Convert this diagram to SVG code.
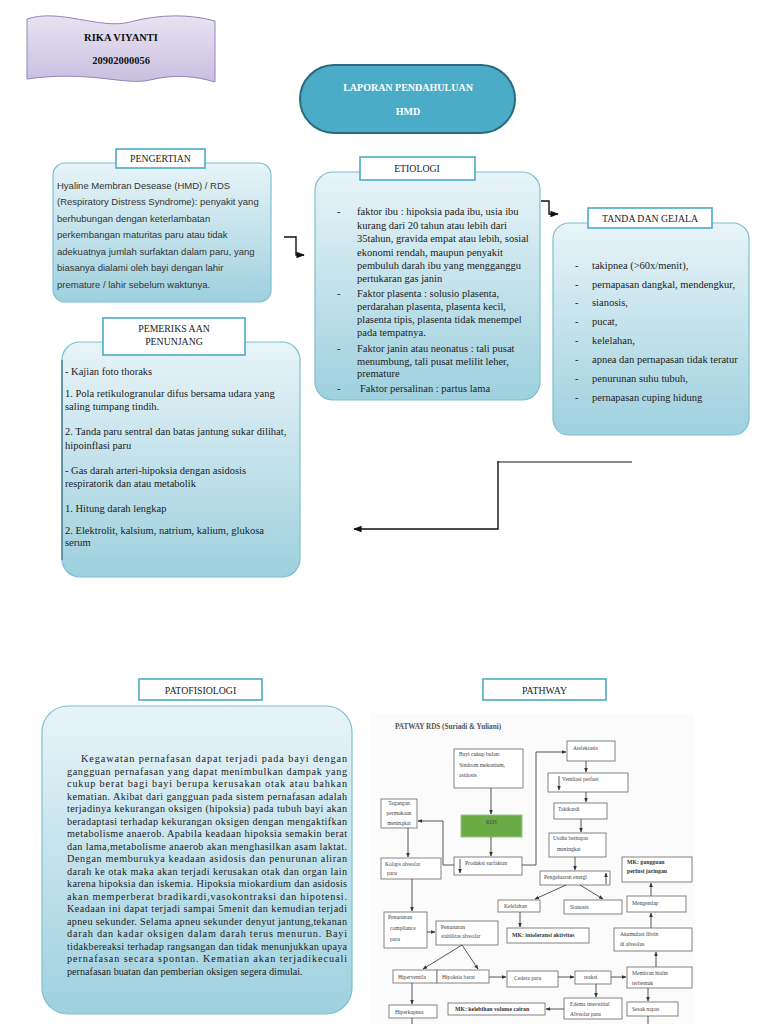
<svg xmlns="http://www.w3.org/2000/svg" width="768" height="1024" viewBox="0 0 768 1024">
<defs>
<linearGradient id="gBlue" x1="0" y1="0" x2="0" y2="1">
<stop offset="0" stop-color="#e8f4f8"/>
<stop offset="1" stop-color="#9ed0de"/>
</linearGradient>
<linearGradient id="gPurple" x1="0" y1="0" x2="0" y2="1">
<stop offset="0" stop-color="#e8e3f2"/>
<stop offset="1" stop-color="#c9bfe0"/>
</linearGradient>
<marker id="ah" viewBox="0 0 10 10" refX="9" refY="5" markerWidth="6" markerHeight="6" orient="auto-start-reverse">
<path d="M0,1 L10,5 L0,9 Z" fill="#111"/>
</marker>
<marker id="ap" viewBox="0 0 10 10" refX="9" refY="5" markerWidth="5" markerHeight="5" orient="auto-start-reverse">
<path d="M0,1 L10,5 L0,9 Z" fill="#333"/>
</marker>
<style>
.box{fill:url(#gBlue);stroke:#7cc0d2;stroke-width:1.2}
.lbl{fill:#fff;stroke:#4bacc6;stroke-width:1.6}
.lt{font-family:"Liberation Serif",serif;font-size:9.8px;fill:#222;text-anchor:middle}
.sans{font-family:"Liberation Sans",sans-serif;font-size:9.5px;fill:#333}
.ser{font-family:"Liberation Serif",serif;font-size:10.5px;fill:#222}
.pat{font-family:"Liberation Serif",serif;font-size:10.2px;fill:#222}
.conn{fill:none;stroke:#111;stroke-width:1.4}
.pb{fill:#fff;stroke:#777;stroke-width:0.9}
.pt{font-family:"Liberation Serif",serif;font-size:5.6px;fill:#444}
.ptb{font-family:"Liberation Serif",serif;font-size:5.8px;fill:#333;font-weight:bold}
.pc{fill:none;stroke:#444;stroke-width:0.9}
</style>
</defs>
<rect width="768" height="1024" fill="#fff"/>

<g id="name">
<path d="M27,19 C60,8 100,30 130,22 C160,14 190,14 215,21 L215,82 C195,76 175,74 150,80 C125,86 90,70 27,79 Z" fill="url(#gPurple)" stroke="#9385ba" stroke-width="1"/>
<text x="121" y="41" text-anchor="middle" font-family="Liberation Serif,serif" font-size="10.5" font-weight="bold" fill="#111">RIKA VIYANTI</text>
<text x="121" y="64" text-anchor="middle" font-family="Liberation Serif,serif" font-size="10.5" font-weight="bold" fill="#111">20902000056</text>
</g>

<g id="title">
<rect x="300" y="65" width="215" height="68" rx="34" fill="#4aacc6" stroke="#2b6a7a" stroke-width="2"/>
<text x="408" y="91" text-anchor="middle" font-family="Liberation Serif,serif" font-size="10" font-weight="bold" fill="#fff">LAPORAN PENDAHULUAN</text>
<text x="408" y="115" text-anchor="middle" font-family="Liberation Serif,serif" font-size="10" font-weight="bold" fill="#fff">HMD</text>
</g>

<g id="pengertian">
<rect class="box" x="53" y="163" width="218" height="139" rx="12"/>
<rect class="lbl" x="116" y="149" width="89" height="19"/>
<text class="lt" x="160.5" y="162">PENGERTIAN</text>
<text class="sans" x="57" y="189">Hyaline Membran Desease (HMD) / RDS</text>
<text class="sans" x="57" y="205">(Respiratory Distress Syndrome): penyakit yang</text>
<text class="sans" x="57" y="222">berhubungan dengan keterlambatan</text>
<text class="sans" x="57" y="238">perkembangan maturitas paru atau tidak</text>
<text class="sans" x="57" y="255">adekuatnya jumlah surfaktan dalam paru, yang</text>
<text class="sans" x="57" y="271">biasanya dialami oleh bayi dengan lahir</text>
<text class="sans" x="57" y="288">premature / lahir sebelum waktunya.</text>
</g>

<g id="etiologi">
<rect class="box" x="315" y="172" width="225" height="228" rx="18"/>
<rect class="lbl" x="360" y="157" width="115" height="23"/>
<text class="lt" x="417" y="172">ETIOLOGI</text>
<text class="ser" x="337" y="215">-</text>
<text class="ser" x="357" y="215">faktor ibu : hipoksia pada ibu, usia ibu</text>
<text class="ser" x="357" y="229">kurang dari 20 tahun atau lebih dari</text>
<text class="ser" x="357" y="242">35tahun, gravida empat atau lebih, sosial</text>
<text class="ser" x="357" y="256">ekonomi rendah, maupun penyakit</text>
<text class="ser" x="357" y="269">pembuluh darah ibu yang mengganggu</text>
<text class="ser" x="357" y="282">pertukaran gas janin</text>
<text class="ser" x="337" y="297">-</text>
<text class="ser" x="357" y="297">Faktor plasenta : solusio plasenta,</text>
<text class="ser" x="357" y="310">perdarahan plasenta, plasenta kecil,</text>
<text class="ser" x="357" y="323">plasenta tipis, plasenta tidak menempel</text>
<text class="ser" x="357" y="336">pada tempatnya.</text>
<text class="ser" x="337" y="352">-</text>
<text class="ser" x="357" y="352">Faktor janin atau neonatus  : tali pusat</text>
<text class="ser" x="357" y="365">menumbung, tali pusat melilit leher,</text>
<text class="ser" x="357" y="377">premature</text>
<text class="ser" x="337" y="392">-</text>
<text class="ser" x="360" y="392">Faktor persalinan  : partus lama</text>
</g>

<g id="tanda">
<rect class="box" x="553" y="223" width="196" height="212" rx="16"/>
<rect class="lbl" x="588" y="208" width="124" height="20"/>
<text class="lt" x="650" y="222">TANDA DAN GEJALA</text>
<g class="ser">
<text x="575" y="269">-</text><text x="592" y="269">takipnea (&gt;60x/menit),</text>
<text x="575" y="288">-</text><text x="592" y="288">pernapasan dangkal, mendengkur,</text>
<text x="575" y="306">-</text><text x="592" y="306">sianosis,</text>
<text x="575" y="325">-</text><text x="592" y="325">pucat,</text>
<text x="575" y="344">-</text><text x="592" y="344">kelelahan,</text>
<text x="575" y="363">-</text><text x="592" y="363">apnea dan pernapasan tidak teratur</text>
<text x="575" y="382">-</text><text x="592" y="382">penurunan suhu tubuh,</text>
<text x="575" y="401">-</text><text x="592" y="401">pernapasan cuping hidung</text>
</g>
</g>

<g id="pemeriksaan">
<rect class="box" x="62" y="342" width="238" height="235" rx="18"/>
<path d="M62,360 L62,560" stroke="#2f6f80" stroke-width="1.2" fill="none"/>
<rect class="lbl" x="103" y="318" width="142" height="37"/>
<text class="lt" x="174" y="332">PEMERIKS AAN</text>
<text class="lt" x="174" y="345">PENUNJANG</text>
<g class="ser">
<text x="65" y="375">- Kajian foto thoraks</text>
<text x="65" y="397">1. Pola retikulogranular difus bersama udara yang</text>
<text x="65" y="410">saling tumpang tindih.</text>
<text x="65" y="435">2. Tanda paru sentral dan batas jantung sukar dilihat,</text>
<text x="65" y="449">hipoinflasi paru</text>
<text x="65" y="474">- Gas darah arteri-hipoksia dengan asidosis</text>
<text x="65" y="487">respiratorik dan atau metabolik</text>
<text x="65" y="512">1. Hitung darah lengkap</text>
<text x="65" y="534">2. Elektrolit, kalsium, natrium, kalium, glukosa</text>
<text x="65" y="546">serum</text>
</g>
</g>

<g id="patofisiologi">
<rect class="box" x="42" y="706" width="310" height="308" rx="26"/>
<rect class="lbl" x="139" y="679" width="123" height="21"/>
<text class="lt" x="200.5" y="694">PATOFISIOLOGI</text>
<g class="pat">
<text x="81" y="762" textLength="266" lengthAdjust="spacing">Kegawatan pernafasan dapat terjadi pada bayi dengan</text>
<text x="67" y="774.5" textLength="280" lengthAdjust="spacing">gangguan pernafasan yang dapat menimbulkan dampak yang</text>
<text x="67" y="787" textLength="280" lengthAdjust="spacing">cukup berat bagi bayi berupa kerusakan otak atau bahkan</text>
<text x="67" y="799.5" textLength="280" lengthAdjust="spacing">kematian. Akibat dari gangguan pada sistem pernafasan adalah</text>
<text x="67" y="812" textLength="280" lengthAdjust="spacing">terjadinya kekurangan oksigen (hipoksia) pada tubuh bayi akan</text>
<text x="67" y="824.5" textLength="280" lengthAdjust="spacing">beradaptasi terhadap kekurangan oksigen dengan mengaktifkan</text>
<text x="67" y="837" textLength="280" lengthAdjust="spacing">metabolisme anaerob. Apabila keadaan hipoksia semakin berat</text>
<text x="67" y="849.5" textLength="280" lengthAdjust="spacing">dan lama,metabolisme anaerob akan menghasilkan asam laktat.</text>
<text x="67" y="862" textLength="280" lengthAdjust="spacing">Dengan memburukya keadaan asidosis dan penurunan aliran</text>
<text x="67" y="874.5" textLength="280" lengthAdjust="spacing">darah ke otak maka akan terjadi kerusakan otak dan organ lain</text>
<text x="67" y="887" textLength="280" lengthAdjust="spacing">karena hipoksia dan iskemia.  Hipoksia miokardium dan asidosis</text>
<text x="67" y="899.5" textLength="280" lengthAdjust="spacing">akan memperberat bradikardi,vasokontraksi dan hipotensi.</text>
<text x="67" y="912" textLength="280" lengthAdjust="spacing">Keadaan ini dapat terjadi sampai 5menit dan kemudian terjadi</text>
<text x="67" y="924.5" textLength="280" lengthAdjust="spacing">apneu sekunder. Selama apneu sekunder denyut jantung,tekanan</text>
<text x="67" y="937" textLength="280" lengthAdjust="spacing">darah dan kadar oksigen dalam darah terus menurun. Bayi</text>
<text x="67" y="949.5" textLength="280" lengthAdjust="spacing">tidakbereaksi terhadap rangsangan dan tidak menunjukkan upaya</text>
<text x="67" y="962" textLength="280" lengthAdjust="spacing">pernafasan secara spontan. Kematian akan terjadikecuali</text>
<text x="67" y="974.5">pernafasan buatan dan pemberian oksigen segera dimulai.</text>
</g>
</g>

<g id="pathway-label">
<rect class="lbl" x="483" y="679" width="123" height="21"/>
<text class="lt" x="544.5" y="694">PATHWAY</text>
</g>

<g id="connectors">
<path class="conn" d="M284,237 L296,237 L296,255 L304,255" marker-end="url(#ah)"/>
<path class="conn" d="M541,201 L549,201 L549,214 L558,214" marker-end="url(#ah)"/>
<path d="M632,462 L498,462" fill="none" stroke="#666" stroke-width="1.4"/>
<path class="conn" d="M498,461 L498,529 L354,529" marker-end="url(#ah)"/>
</g>

<g id="pathway">
<rect x="370" y="713" width="325" height="311" fill="#fbfbfb"/>
<text x="395" y="729" font-family="Liberation Serif,serif" font-size="7.2" font-weight="bold" fill="#555">PATWAY RDS (Suriadi &amp; Yuliani)</text>

<g id="p-bayi"><rect class="pb" x="454" y="749" width="69" height="39"/>
<text class="pt" x="459" y="756">Bayi cukup bulan:</text><text class="pt" x="459" y="767">Sindrom mekonium,</text><text class="pt" x="459" y="777">asidosis</text></g>
<g id="p-rds"><rect x="461" y="815" width="61" height="22" fill="#6aab45" stroke="#9ac48a" stroke-width="1"/>
<text class="pt" x="491.5" y="824" text-anchor="middle" fill="#eef5e8">RDS</text></g>
<g id="p-tegangan"><rect class="pb" x="381" y="799" width="36" height="29"/>
<text class="pt" x="399" y="805" text-anchor="middle">Tegangan</text><text class="pt" x="399" y="815" text-anchor="middle">permukaan</text><text class="pt" x="399" y="825" text-anchor="middle">meningkat</text></g>
<g id="p-kolaps"><rect class="pb" x="381" y="858" width="60" height="21"/>
<text class="pt" x="385" y="866">Kolaps alveolar</text><text class="pt" x="387" y="875">paru</text></g>
<g id="p-produksi"><rect class="pb" x="454" y="857" width="68" height="18"/>
<text class="pt" x="465" y="865">Produksi surfaktan</text></g>
<g id="p-atelektasis"><rect class="pb" x="567" y="741" width="48" height="20"/>
<text class="pt" x="573" y="750">Atelektasis</text></g>
<g id="p-ventilasi"><rect class="pb" x="548" y="773" width="80" height="19"/>
<text class="pt" x="562" y="781">Ventilasi perfusi</text></g>
<g id="p-takikardi"><rect class="pb" x="554" y="803" width="53" height="16"/>
<text class="pt" x="558" y="811">Takikardi</text></g>
<g id="p-usaha"><rect class="pb" x="549" y="833" width="57" height="24"/>
<text class="pt" x="553" y="840">Usaha bernapas</text><text class="pt" x="557" y="851">meningkat</text></g>
<g id="p-mk-perfusi"><rect class="pb" x="622" y="857" width="70" height="25"/>
<text class="ptb" x="627" y="864">MK: gangguan</text><text class="ptb" x="627" y="873">perfusi jaringan</text></g>
<g id="p-pengeluaran"><rect class="pb" x="540" y="871" width="70" height="14"/>
<text class="pt" x="544" y="879">Pengeluaran energi</text></g>
<g id="p-kelelahan"><rect class="pb" x="498" y="900" width="42" height="12"/>
<text class="pt" x="504" y="908">Kelelahan</text></g>
<g id="p-sianosis"><rect class="pb" x="564" y="900" width="58" height="14"/>
<text class="pt" x="570" y="909">Sianosis</text></g>
<g id="p-mengendap"><rect class="pb" x="627" y="896" width="59" height="16"/>
<text class="pt" x="632" y="905">Mengendap</text></g>
<g id="p-mk-intoleransi"><rect class="pb" x="507" y="928" width="82" height="15"/>
<text class="ptb" x="512" y="937">MK: intoleransi aktivitas</text></g>
<g id="p-akumulasi"><rect class="pb" x="614" y="928" width="78" height="23"/>
<text class="pt" x="620" y="936">Akumulasi fibrin</text><text class="pt" x="620" y="946">di alveolus</text></g>
<g id="p-compliance"><rect class="pb" x="384" y="912" width="43" height="36"/>
<text class="pt" x="388" y="919">Penurunan</text><text class="pt" x="390" y="930">compliance</text><text class="pt" x="390" y="941">paru</text></g>
<g id="p-stabilitas"><rect class="pb" x="436" y="921" width="62" height="24"/>
<text class="pt" x="441" y="929">Penurunan</text><text class="pt" x="441" y="938">stabilitas alveolar</text></g>
<g id="p-hiperventila"><rect class="pb" x="393" y="970" width="44" height="13"/>
<text class="pt" x="398" y="978.5">Hiperventila</text></g>
<g id="p-hipoksia"><rect class="pb" x="437" y="970" width="52" height="13"/>
<text class="pt" x="442" y="978.5">Hipoksia berat</text></g>
<g id="p-cedera"><rect class="pb" x="507" y="971" width="51" height="16"/>
<text class="pt" x="514" y="980">Cedera paru</text></g>
<g id="p-reaksi"><rect class="pb" x="575" y="971" width="36" height="13"/>
<text class="pt" x="584" y="979">reaksi</text></g>
<g id="p-membran"><rect class="pb" x="627" y="967" width="65" height="21"/>
<text class="pt" x="632" y="975">Membran hialin</text><text class="pt" x="632" y="985">terbentuk</text></g>
<g id="p-edema"><rect class="pb" x="564" y="998" width="58" height="21"/>
<text class="pt" x="570" y="1006">Edema interstitial</text><text class="pt" x="570" y="1016">Alveolar paru</text></g>
<g id="p-mk-cairan"><rect class="pb" x="448" y="1003" width="97" height="12"/>
<text class="ptb" x="455" y="1011">MK: kelebihan volume cairan</text></g>
<g id="p-sesak"><rect class="pb" x="627" y="1002" width="51" height="14"/>
<text class="pt" x="632" y="1011">Sesak napas</text></g>
<g id="p-hiperkapnea"><rect class="pb" x="389" y="1005" width="48" height="13"/>
<text class="pt" x="395" y="1013.5">Hiperkapnea</text></g>

<g id="p-connectors">
<path class="pc" d="M491,788 L491,814" marker-end="url(#ap)"/>
<path class="pc" d="M491,837 L491,856" marker-end="url(#ap)"/>
<path class="pc" d="M454,865 L443,865 L443,821 L418,821" marker-end="url(#ap)"/>
<path class="pc" d="M408,828 L408,857" marker-end="url(#ap)"/>
<path class="pc" d="M460,859 L460,873" marker-end="url(#ap)"/>
<path class="pc" d="M522,865 L536,865 L536,752 L566,752" marker-end="url(#ap)"/>
<path class="pc" d="M586,761 L586,772" marker-end="url(#ap)"/>
<path class="pc" d="M559,776 L559,790" marker-end="url(#ap)"/>
<path class="pc" d="M586,792 L586,802" marker-end="url(#ap)"/>
<path class="pc" d="M581,819 L581,832" marker-end="url(#ap)"/>
<path class="pc" d="M575,857 L575,870" marker-end="url(#ap)"/>
<path class="pc" d="M606,884 L606,873" marker-end="url(#ap)"/>
<path class="pc" d="M566,885 L535,899" marker-end="url(#ap)"/>
<path class="pc" d="M580,885 L603,899" marker-end="url(#ap)"/>
<path class="pc" d="M520,912 L520,927" marker-end="url(#ap)"/>
<path class="pc" d="M651,896 L651,883" marker-end="url(#ap)"/>
<path class="pc" d="M651,928 L651,913" marker-end="url(#ap)"/>
<path class="pc" d="M656,967 L656,952" marker-end="url(#ap)"/>
<path class="pc" d="M648,988 L648,1001" marker-end="url(#ap)"/>
<path class="pc" d="M648,1016 L648,1024"/>
<path class="pc" d="M611,977 L626,977" marker-end="url(#ap)"/>
<path class="pc" d="M558,977 L574,977" marker-end="url(#ap)"/>
<path class="pc" d="M596,984 L596,997" marker-end="url(#ap)"/>
<path class="pc" d="M564,1009 L546,1009" marker-end="url(#ap)"/>
<path class="pc" d="M412,879 L412,911" marker-end="url(#ap)"/>
<path class="pc" d="M427,932 L435,932" marker-end="url(#ap)"/>
<path class="pc" d="M462,945 L423,969" marker-end="url(#ap)"/>
<path class="pc" d="M462,945 L478,969" marker-end="url(#ap)"/>
<path class="pc" d="M489,977 L506,977" marker-end="url(#ap)"/>
<path class="pc" d="M412,983 L412,1004" marker-end="url(#ap)"/>
<path class="pc" d="M412,1018 L412,1024"/>
</g>
</g>
</svg>
